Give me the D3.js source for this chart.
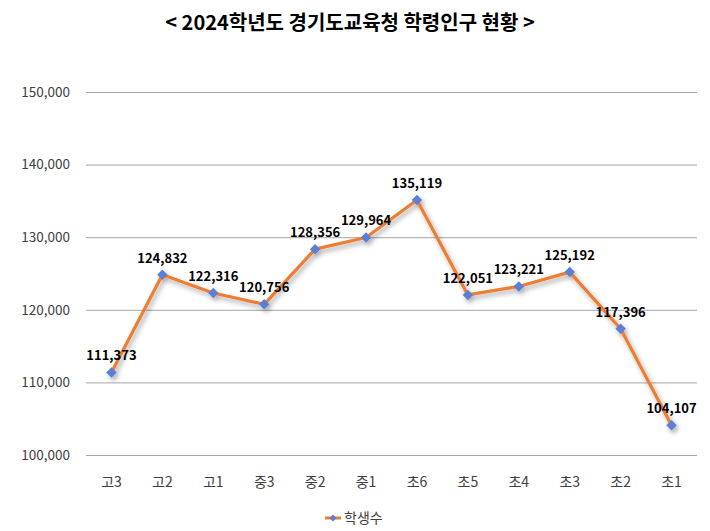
<!DOCTYPE html>
<html><head><meta charset="utf-8">
<script src="https://cdn.jsdelivr.net/npm/d3@7"></script>
<style>body{margin:0;background:#fff}svg{display:block}</style>
</head><body>
<script>
const categories = ["고3","고2","고1","중3","중2","중1","초6","초5","초4","초3","초2","초1"];
const students = [111373,124832,122316,120756,128356,129964,135119,122051,123221,125192,117396,104107];
const yTicks = [100000,110000,120000,130000,140000,150000];
const seriesName = "학생수";
const title = "< 2024학년도 경기도교육청 학령인구 현황 >";

const W=710,H=531;
const svg=d3.select("body").append("svg").attr("width",W).attr("height",H);
const font="'Noto Sans CJK KR','Noto Sans',sans-serif";
const x=d3.scaleBand().domain(categories).range([86,697]).padding(0);
const y=d3.scaleLinear().domain([100000,150000]).range([455,92]);

const defs=svg.append("defs");
const f=defs.append("filter").attr("id","sh").attr("x","-20%").attr("y","-20%").attr("width","140%").attr("height","140%");
f.append("feDropShadow").attr("dx",2).attr("dy",3).attr("stdDeviation",2.5).attr("flood-color","#000").attr("flood-opacity",0.35);

svg.append("text").attr("x",350).attr("y",30).attr("text-anchor","middle")
  .attr("font-family",font).attr("font-weight","bold").attr("font-size",20).attr("fill","#000").text(title);

const yAxis=d3.axisLeft(y).tickValues(yTicks).tickSize(-(697-86)).tickPadding(16).tickFormat(d3.format(","));
const gy=svg.append("g").attr("transform","translate(86,0)").call(yAxis);
gy.select(".domain").remove();
gy.selectAll(".tick line").attr("stroke","#a6a6a6").attr("stroke-width",1);
gy.selectAll(".tick text").attr("font-family",font).attr("font-size",13.5).attr("fill","#404040");

const xAxis=d3.axisBottom(x).tickSize(0).tickPadding(22);
const gx=svg.append("g").attr("transform","translate(0,455)").call(xAxis);
gx.select(".domain").remove();
gx.selectAll(".tick text").attr("font-family",font).attr("font-size",14).attr("fill","#404040");

const cx=d=>x(d)+x.bandwidth()/2;
const data=categories.map((c,i)=>({c,v:students[i]}));
const line=d3.line().x(d=>cx(d.c)).y(d=>y(d.v)).curve(d3.curveLinear);
const g=svg.append("g").attr("filter","url(#sh)");
g.append("path").datum(data).attr("d",line).attr("fill","none").attr("stroke","#ED7D31").attr("stroke-width",3.2).attr("stroke-linejoin","round");
const diamond=d3.symbol().type(d3.symbolDiamond2).size(70);
g.selectAll("path.m").data(data).join("path").attr("class","m")
  .attr("d",diamond).attr("transform",d=>`translate(${cx(d.c)},${y(d.v)})`).attr("fill","#5B7FD6");

svg.selectAll("text.lbl").data(data).join("text").attr("class","lbl")
  .attr("x",d=>cx(d.c)).attr("y",d=>y(d.v)-12).attr("text-anchor","middle")
  .attr("font-family",font).attr("font-weight","bold").attr("font-size",13).attr("fill","#000")
  .text(d=>d3.format(",")(d.v));

const lg=svg.append("g").attr("transform","translate(325,518)");
lg.append("line").attr("x1",0).attr("x2",16).attr("y1",0).attr("y2",0).attr("stroke","#ED7D31").attr("stroke-width",3);
lg.append("path").attr("d",d3.symbol().type(d3.symbolDiamond2).size(30)).attr("transform","translate(8,0)").attr("fill","#5B7FD6");
lg.append("text").attr("x",19).attr("y",5).attr("font-family",font).attr("font-size",14).attr("fill","#404040").text(seriesName);
</script>
</body></html>
